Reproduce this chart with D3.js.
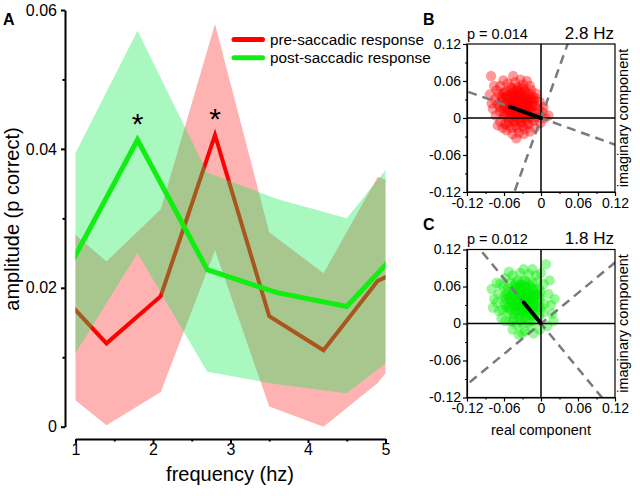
<!DOCTYPE html>
<html><head><meta charset="utf-8">
<script src="https://cdn.jsdelivr.net/npm/d3@7"></script>
<style>
body{margin:0;background:#fff}
svg{display:block}
text{font-family:"Liberation Sans",Arial,sans-serif;fill:#000}
</style>
</head><body>
<svg id="chart" width="640" height="496"></svg>
<script>
// ---- Panel A data ----
const preFreq  = [0.7, 1.4, 2.1, 2.8, 3.5, 4.2, 4.9, 5.6];
const preMean  = [0.0204, 0.0120, 0.0188, 0.0420, 0.0159, 0.0110, 0.0210, 0.0246];
const preUpper = [0.0305, 0.0238, 0.0313, 0.0580, 0.0280, 0.0221, 0.0360, 0.0330];
const preLower = [0.0065, 0.0002, 0.0050, 0.0254, 0.0029, 0.0000, 0.0063, 0.0160];
const postFreq  = [0.9, 1.8, 2.7, 3.6, 4.5, 5.4];
const postMean  = [0.0226, 0.0413, 0.0226, 0.0193, 0.0173, 0.0281];
const postUpper = [0.0372, 0.0570, 0.0366, 0.0328, 0.0300, 0.0425];
const postLower = [0.0088, 0.0250, 0.0079, 0.0061, 0.0048, 0.0126];
const xTicks = [1, 2, 3, 4, 5];
const xMinor = [1.5, 2.5, 3.5, 4.5];
const yTicks = [0, 0.02, 0.04, 0.06];
const yMinor = [0.01, 0.03, 0.05];
const seriesNames = ["pre-saccadic response", "post-saccadic response"];
const starFreq = [1.8, 2.8];
const starVal = [0.0443, 0.0449];

// ---- Panels B / C data ----
const phaseTicks = [-0.12, -0.06, 0, 0.06, 0.12];
const phaseMinor = [-0.09, -0.03, 0.03, 0.09];
const preLabelP = "p = 0.014", preLabelHz = "2.8 Hz";
const postLabelP = "p = 0.012", postLabelHz = "1.8 Hz";
const preVector = [-0.050, 0.018];
const postVector = [-0.028, 0.034];
const prePoints = [
[-0.038,0.018],[-0.030,0.022],[-0.045,0.012],[-0.034,0.010],[-0.042,0.026],[-0.027,0.014],[-0.050,0.020],[-0.036,0.030],[-0.024,0.006],[-0.047,0.005],
[-0.031,0.002],[-0.055,0.027],[-0.040,0.036],[-0.021,0.020],[-0.044,-0.002],[-0.028,0.031],[-0.053,0.012],[-0.017,0.011],[-0.035,-0.004],[-0.048,0.033],
[-0.025,0.026],[-0.058,0.018],[-0.039,0.004],[-0.032,0.038],[-0.019,0.002],[-0.043,0.020],[-0.029,0.008],[-0.051,0.039],[-0.037,0.024],[-0.022,0.030],
[-0.062,0.032],[-0.066,0.010],[-0.060,0.002],[-0.056,0.044],[-0.046,0.048],[-0.034,0.047],[-0.023,0.041],[-0.013,0.034],[-0.010,0.020],[-0.008,0.008],
[-0.012,-0.004],[-0.020,-0.010],[-0.030,-0.013],[-0.041,-0.012],[-0.052,-0.006],[-0.059,0.040],[-0.070,0.022],[-0.068,0.038],[-0.016,0.045],[-0.004,0.014],
[-0.006,0.001],[-0.026,-0.018],[-0.048,-0.016],[-0.058,-0.010],[-0.064,0.026],
[-0.075,0.030],[-0.078,0.015],[-0.073,0.004],[-0.072,0.045],[-0.066,0.052],[-0.054,0.056],[-0.042,0.058],[-0.029,0.054],[-0.018,0.052],[-0.008,0.040],
[-0.002,0.026],[0.003,0.010],[0.006,0.000],[0.012,0.004],[-0.001,-0.008],[-0.010,-0.016],[-0.018,-0.022],[-0.036,-0.024],[-0.046,-0.026],[-0.040,-0.033],
[-0.056,-0.020],[-0.066,-0.006],[-0.070,-0.012],[-0.080,0.024],[-0.083,0.038],[-0.081,0.068],[-0.045,0.068],[-0.061,0.061],[-0.033,0.062],[-0.023,0.060],
[0.004,0.018],[-0.076,0.052],[-0.062,-0.016],[-0.028,-0.026],
[-0.036,0.016],[-0.041,0.010],[-0.033,0.026],[-0.046,0.028],[-0.026,0.018],[-0.052,0.024],[-0.038,0.042],[-0.030,0.016],[-0.044,0.040],[-0.020,0.014],
[-0.056,0.034],[-0.014,0.026],[-0.062,0.016],[-0.035,0.000],[-0.024,0.036],
[-0.040,0.015],[-0.033,0.020],[-0.047,0.017],[-0.029,0.027],[-0.037,0.033],[-0.044,0.024],[-0.025,0.011],[-0.051,0.029],[-0.031,0.006],[-0.042,0.003],
[-0.036,0.008],[-0.048,0.010],[-0.023,0.023],[-0.054,0.017],[-0.039,0.028],[-0.027,0.034],[-0.045,0.036],[-0.019,0.017],[-0.032,0.013],[-0.049,0.001],
[-0.058,0.024],[-0.015,0.019],[-0.034,0.042],[-0.041,0.045],[-0.021,0.007],[-0.053,0.035],[-0.028,0.000],[-0.060,0.010],[-0.016,0.030],[-0.046,0.042],
[-0.038,0.050],[-0.026,0.045],[-0.057,0.005],[-0.012,0.012],[-0.064,0.034],[-0.043,-0.006],[-0.033,-0.008],[-0.022,-0.002],[-0.052,-0.001],[-0.061,0.041],
[-0.030,0.048],[-0.049,0.050],[-0.018,0.038],[-0.011,0.028],[-0.067,0.018],[-0.039,-0.016],[-0.024,-0.010],[-0.054,-0.012],[-0.014,0.000],[-0.009,0.032],
[-0.035,0.022],[-0.043,0.014],[-0.029,0.019],[-0.037,0.011],[-0.046,0.022],[-0.031,0.030],[-0.040,0.032],[-0.026,0.004],[-0.050,0.014],[-0.020,0.026]
];
const postPoints = [
[-0.030,0.035],[-0.022,0.040],[-0.037,0.028],[-0.026,0.026],[-0.034,0.044],[-0.018,0.031],[-0.042,0.037],[-0.029,0.050],[-0.015,0.021],[-0.040,0.022],
[-0.023,0.016],[-0.047,0.046],[-0.033,0.055],[-0.012,0.038],[-0.036,0.014],[-0.020,0.052],[-0.045,0.030],[-0.009,0.027],[-0.027,0.010],[-0.040,0.056],
[-0.016,0.046],[-0.050,0.036],[-0.031,0.020],[-0.024,0.060],[-0.011,0.014],[-0.035,0.040],[-0.021,0.024],[-0.043,0.062],[-0.028,0.043],[-0.013,0.056],
[-0.055,0.052],[-0.058,0.030],[-0.053,0.018],[-0.050,0.066],[-0.038,0.070],[-0.026,0.070],[-0.014,0.066],[-0.004,0.056],[-0.002,0.040],[0.000,0.026],
[-0.003,0.012],[-0.010,0.004],[-0.020,0.002],[-0.032,0.004],[-0.044,0.008],[-0.060,0.044],[-0.063,0.022],[-0.061,0.060],[-0.006,0.068],[0.006,0.032],
[0.004,0.018],[-0.017,-0.006],[-0.039,-0.002],[-0.050,0.004],[-0.057,0.040],
[-0.069,0.048],[-0.072,0.034],[-0.068,0.020],[-0.066,0.064],[-0.058,0.074],[-0.046,0.078],[-0.034,0.082],[-0.020,0.080],[-0.008,0.078],[0.004,0.064],
[0.012,0.048],[0.016,0.030],[0.018,0.016],[0.020,0.004],[0.010,-0.004],[-0.002,-0.010],[-0.012,-0.016],[-0.026,-0.012],[-0.036,-0.018],[-0.046,-0.010],
[-0.058,0.004],[-0.064,0.008],[-0.076,0.040],[-0.080,0.056],[-0.078,0.026],[0.008,0.096],[-0.028,0.088],[-0.052,0.084],[-0.014,0.088],[0.000,0.082],
[0.022,0.040],[-0.072,0.066],[-0.030,-0.016],[0.014,0.070],
[-0.028,0.032],[-0.033,0.030],[-0.025,0.046],[-0.039,0.048],[-0.019,0.036],[-0.046,0.054],[-0.031,0.062],[-0.022,0.030],[-0.037,0.058],[-0.012,0.030],
[-0.052,0.044],[-0.008,0.048],[-0.054,0.026],[-0.027,0.018],[-0.017,0.058],
[-0.032,0.033],[-0.025,0.038],[-0.039,0.035],[-0.021,0.044],[-0.029,0.047],[-0.036,0.051],[-0.017,0.027],[-0.043,0.043],[-0.023,0.022],[-0.034,0.020],
[-0.028,0.025],[-0.040,0.028],[-0.015,0.040],[-0.046,0.035],[-0.031,0.045],[-0.019,0.049],[-0.037,0.054],[-0.011,0.033],[-0.024,0.030],[-0.041,0.018],
[-0.050,0.040],[-0.007,0.036],[-0.026,0.058],[-0.033,0.063],[-0.013,0.024],[-0.045,0.052],[-0.020,0.015],[-0.052,0.026],[-0.008,0.046],[-0.038,0.060],
[-0.030,0.068],[-0.018,0.062],[-0.049,0.021],[-0.004,0.028],[-0.056,0.046],[-0.035,0.010],[-0.025,0.008],[-0.014,0.013],[-0.044,0.015],[-0.053,0.058],
[-0.022,0.066],[-0.041,0.066],[-0.010,0.054],[-0.003,0.044],[-0.059,0.034],[-0.031,0.000],[-0.016,0.005],[-0.046,0.003],[-0.006,0.020],[-0.001,0.052],
[-0.027,0.036],[-0.035,0.031],[-0.021,0.037],[-0.029,0.029],[-0.038,0.041],[-0.023,0.049],[-0.032,0.052],[-0.018,0.020],[-0.042,0.030],[-0.012,0.045]
];

const svg = d3.select("#chart");
const RED = "#ff0000";
const BAND_GREEN = "rgb(20,235,85)";
const LINE_GREEN = "#11ee11";

// ================= Panel A =================
const x = d3.scaleLinear().domain([1, 5]).range([75.5, 385.5]);
const y = d3.scaleLinear().domain([0, 0.06]).range([426.7, 10]);

svg.append("defs").append("clipPath").attr("id", "clipA")
  .append("rect").attr("x", x(1)).attr("y", 0).attr("width", x(5) - x(1)).attr("height", 440);

const gA = svg.append("g").attr("clip-path", "url(#clipA)");
const pre = preFreq.map((f, i) => ({f, m: preMean[i], u: preUpper[i], l: preLower[i]}));
const post = postFreq.map((f, i) => ({f, m: postMean[i], u: postUpper[i], l: postLower[i]}));
const area = d3.area().x(d => x(d.f)).y0(d => y(d.l)).y1(d => y(d.u));
const line = d3.line().x(d => x(d.f)).y(d => y(d.m));

gA.append("path").datum(pre).attr("d", area).attr("fill", RED).attr("fill-opacity", 0.3);
gA.append("path").datum(pre).attr("d", line).attr("fill", "none").attr("stroke", RED)
  .attr("stroke-width", 4).attr("stroke-linejoin", "miter");
gA.append("path").datum(post).attr("d", area).attr("fill", BAND_GREEN).attr("fill-opacity", 0.37);
gA.append("path").datum(post).attr("d", line).attr("fill", "none").attr("stroke", LINE_GREEN)
  .attr("stroke-width", 5).attr("stroke-linejoin", "miter");

// asterisks
svg.selectAll("text.star").data(starFreq).join("text").attr("class", "star")
  .attr("x", (d) => x(d)).attr("y", (d, i) => y(starVal[i]) + 14.5)
  .attr("text-anchor", "middle").attr("font-size", 30).text("*");

// y axis
svg.append("g").attr("class", "axA").attr("transform", "translate(65,0)")
  .call(d3.axisLeft(y).tickValues(yTicks).tickSize(4).tickPadding(4).tickSizeOuter(0)
    .tickFormat(d => d === 0 ? "0" : d.toFixed(2)));
svg.append("g").attr("class", "axA").attr("transform", "translate(65,0)")
  .call(d3.axisLeft(y).tickValues(yMinor).tickSize(2.5).tickSizeOuter(0).tickFormat(""))
  .select(".domain").remove();
// x axis
svg.append("g").attr("class", "axA").attr("transform", "translate(0,439)")
  .call(d3.axisBottom(x).tickValues(xTicks).tickSize(4).tickPadding(1).tickSizeOuter(0)
    .tickFormat(d3.format("d")));
svg.append("g").attr("class", "axA").attr("transform", "translate(0,439)")
  .call(d3.axisBottom(x).tickValues(xMinor).tickSize(2.5).tickSizeOuter(0).tickFormat(""))
  .select(".domain").remove();
svg.selectAll(".axA .tick text").attr("font-size", 16).attr("font-family", "Liberation Sans, Arial, sans-serif");
svg.selectAll(".axA .domain").attr("stroke-width", 2);
svg.selectAll(".axA .tick line").attr("stroke-width", 2);

svg.append("text").attr("transform", "translate(19,219) rotate(-90)")
  .attr("text-anchor", "middle").attr("font-size", 20).text("amplitude (p correct)");
svg.append("text").attr("x", 230).attr("y", 481).attr("text-anchor", "middle")
  .attr("font-size", 20).text("frequency (hz)");
svg.append("text").attr("x", 3).attr("y", 25).attr("font-size", 16).attr("font-weight", "bold").text("A");

// legend
const legColors = [RED, LINE_GREEN];
const leg = svg.selectAll("g.leg").data(seriesNames).join("g").attr("class", "leg")
  .attr("transform", (d, i) => `translate(0,${39.5 + i * 18.3})`);
leg.append("line").attr("x1", 234).attr("x2", 262.5).attr("stroke", (d, i) => legColors[i])
  .attr("stroke-width", 5).attr("stroke-linecap", "round");
leg.append("text").attr("x", 270).attr("y", 5.3).attr("font-size", 15.3).text(d => d);

// ================= Panels B, C =================
function phasePanel(top, pts, vec, color, pText, hzText, letter, clipId) {
  const sx = d3.scaleLinear().domain([-0.12, 0.12]).range([467, 615]);
  const sy = d3.scaleLinear().domain([-0.12, 0.12]).range([top + 148, top]);
  const g = svg.append("g");
  svg.select("defs").append("clipPath").attr("id", clipId)
    .append("rect").attr("x", 467).attr("y", top).attr("width", 148).attr("height", 148);

  g.append("g").selectAll("circle").data(pts).join("circle")
    .attr("cx", d => sx(d[0])).attr("cy", d => sy(d[1])).attr("r", 5.2)
    .attr("fill", color).attr("fill-opacity", 0.4);

  // zero lines
  g.append("line").attr("x1", sx(-0.12)).attr("x2", sx(0.12)).attr("y1", sy(0)).attr("y2", sy(0))
    .attr("stroke", "#000").attr("stroke-width", 1.5);
  g.append("line").attr("x1", sx(0)).attr("x2", sx(0)).attr("y1", sy(-0.12)).attr("y2", sy(0.12))
    .attr("stroke", "#000").attr("stroke-width", 1.5);

  // dashed lines along and perpendicular to the mean vector
  const len = Math.hypot(vec[0], vec[1]);
  const ux = vec[0] / len, uy = vec[1] / len;
  const L = 0.4;
  const dirs = [[ux, uy], [-uy, ux]];
  const dg = g.append("g").attr("clip-path", `url(#${clipId})`);
  dirs.forEach(dv => {
    dg.append("line")
      .attr("x1", sx(-L * dv[0])).attr("y1", sy(-L * dv[1]))
      .attr("x2", sx(L * dv[0])).attr("y2", sy(L * dv[1]))
      .attr("stroke", "#7a7a7a").attr("stroke-width", 2.5).attr("stroke-dasharray", "9,6");
  });
  // mean vector
  g.append("line").attr("x1", sx(0)).attr("y1", sy(0)).attr("x2", sx(vec[0])).attr("y2", sy(vec[1]))
    .attr("stroke", "#000").attr("stroke-width", 4).attr("stroke-linecap", "round");

  // box
  g.append("rect").attr("x", 467).attr("y", top).attr("width", 148).attr("height", 148)
    .attr("fill", "none").attr("stroke", "#000").attr("stroke-width", 1.2);

  const fmt = d => d === 0 ? "0" : (d < 0 ? "-" : "") + Math.abs(d).toFixed(2);
  g.append("g").attr("transform", "translate(467,0)")
    .call(d3.axisLeft(sy).tickValues(phaseTicks).tickSize(4).tickPadding(2).tickSizeOuter(0).tickFormat(fmt));
  g.append("g").attr("transform", "translate(467,0)")
    .call(d3.axisLeft(sy).tickValues(phaseMinor).tickSize(2).tickSizeOuter(0).tickFormat(""))
    .select(".domain").remove();
  g.append("g").attr("transform", `translate(0,${top + 148})`)
    .call(d3.axisBottom(sx).tickValues(phaseTicks).tickSize(4).tickPadding(2).tickSizeOuter(0).tickFormat(fmt));
  g.append("g").attr("transform", `translate(0,${top + 148})`)
    .call(d3.axisBottom(sx).tickValues(phaseMinor).tickSize(2).tickSizeOuter(0).tickFormat(""))
    .select(".domain").remove();
  g.selectAll(".tick text").attr("font-size", 14).attr("font-family", "Liberation Sans, Arial, sans-serif");
  g.selectAll(".tick line").attr("stroke-width", 1.2);
  g.selectAll(".domain").attr("stroke-width", 1.2);

  g.append("text").attr("x", 467).attr("y", top - 5.5).attr("font-size", 14.5).text(pText);
  g.append("text").attr("x", 614).attr("y", top - 5.5).attr("text-anchor", "end").attr("font-size", 17).text(hzText);
  g.append("text").attr("x", 423).attr("y", top - 19.5).attr("font-size", 16).attr("font-weight", "bold").text(letter);
  g.append("text").attr("transform", `translate(628,${top + 74}) rotate(-90)`)
    .attr("text-anchor", "middle").attr("font-size", 14.5).text("imaginary component");
}
phasePanel(44, prePoints, preVector, RED, preLabelP, preLabelHz, "B", "clipB");
phasePanel(249.5, postPoints, postVector, "#00ee00", postLabelP, postLabelHz, "C", "clipC");
svg.append("text").attr("x", 541).attr("y", 435).attr("text-anchor", "middle")
  .attr("font-size", 14.5).text("real component");
</script>
</body></html>
